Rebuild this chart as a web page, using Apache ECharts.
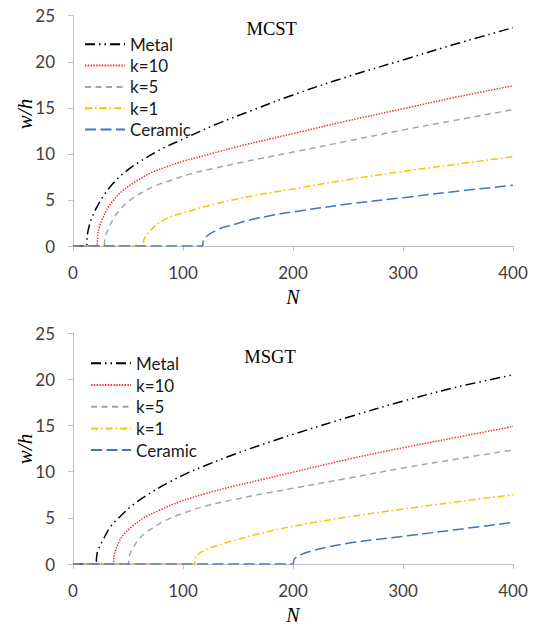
<!DOCTYPE html>
<html>
<head>
<meta charset="utf-8">
<style>
  html, body { margin: 0; padding: 0; background: #ffffff; }
  #chart { width: 534px; height: 626px; }
</style>
<script src="https://cdn.jsdelivr.net/npm/echarts@6/dist/echarts.min.js"></script>
</head>
<body>
<div id="chart"></div>
<script>
// Series names and panel titles
const seriesNames = ['Metal', 'k=10', 'k=5', 'k=1', 'Ceramic'];
const panelTitles = ['MCST', 'MSGT'];

// Axis ranges (N on x, w/h on y)
const xRange = [0, 400, 100];
const yRange = [0, 25, 5];

// MCST panel: [N, w/h]
const mcstMetal = [[0,0],[12,0],[13,1.2],[15,2.3],[18,3.3],[22,4.3],[28,5.5],[35,6.6],[45,7.8],[60,9.1],[80,10.5],[100,11.6],[130,13.2],[160,14.6],[200,16.4],[250,18.4],[300,20.2],[350,22.0],[400,23.7]];
const mcstK10 = [[0,0],[21.5,0],[22.5,1.2],[24,2.1],[27,3.0],[31,4.0],[37,5.0],[45,6.0],[57,7.0],[72,8.0],[90,8.8],[100,9.2],[125,10.0],[150,10.8],[200,12.2],[250,13.6],[300,14.9],[350,16.2],[400,17.4]];
const mcstK5 = [[0,0],[28,0],[29,0.9],[30.5,1.4],[35,2.6],[41,3.7],[50,4.8],[61,5.7],[76,6.6],[91,7.2],[106,7.8],[127,8.4],[150,9.0],[200,10.2],[250,11.4],[300,12.6],[350,13.7],[400,14.8]];
const mcstK1 = [[0,0],[63.5,0],[64.5,0.7],[67,1.2],[73,2.0],[82,2.8],[94,3.4],[106,3.8],[121,4.3],[145,5.0],[175,5.7],[200,6.2],[250,7.2],[300,8.1],[350,8.9],[400,9.7]];
const mcstCeramic = [[0,0],[117.5,0],[118.5,0.6],[121,1.0],[127,1.5],[136,2.0],[145,2.3],[160,2.8],[180,3.3],[200,3.7],[250,4.55],[300,5.25],[350,5.95],[400,6.6]];

// MSGT panel: [N, w/h]
const msgtMetal = [[0,0],[20.6,0],[21.5,0.8],[22.7,1.5],[27.3,2.6],[33.3,3.9],[42.4,5.1],[54.5,6.4],[69.7,7.65],[88,8.9],[103,9.8],[121,10.7],[139,11.55],[161,12.5],[182,13.35],[200,14.05],[250,15.9],[300,17.65],[350,19.2],[400,20.5]];
const msgtK10 = [[0,0],[36.4,0],[37.2,0.8],[38,1.2],[41,2.2],[45.5,3.1],[53,4.0],[63.6,4.95],[79,5.85],[97,6.75],[121,7.65],[145,8.4],[170,9.1],[200,9.95],[250,11.35],[300,12.6],[350,13.75],[400,14.9]];
const msgtK5 = [[0,0],[50,0],[50.8,0.6],[51.5,1.0],[54.5,1.7],[60.6,2.8],[69.7,3.7],[82,4.6],[100,5.5],[121,6.3],[145,6.95],[170,7.55],[200,8.2],[250,9.3],[300,10.4],[350,11.4],[400,12.35]];
const msgtK1 = [[0,0],[110,0],[111,0.5],[112,0.8],[118,1.4],[130,1.95],[145,2.5],[170,3.3],[200,4.1],[250,5.1],[300,5.95],[350,6.75],[400,7.5]];
const msgtCeramic = [[0,0],[200,0],[201,0.5],[205,0.9],[215,1.35],[230,1.8],[250,2.25],[275,2.65],[300,3.0],[350,3.75],[400,4.5]];

const panelData = [
  [mcstMetal, mcstK10, mcstK5, mcstK1, mcstCeramic],
  [msgtMetal, msgtK10, msgtK5, msgtK1, msgtCeramic]
];

// Line looks, one per series
const lineLooks = [
  { color: '#000000', type: [10, 4, 1.5, 4, 1.5, 4] },
  { color: '#ff2a2a', type: [1.4, 1.4] },
  { color: '#a5a5a5', type: [6, 4.5] },
  { color: '#ffc000', type: [7, 3, 1.6, 3] },
  { color: '#4472c4', type: [11, 4.5] }
];

const gridBoxes = [
  { left: 73, width: 440, top: 15.7, height: 230.3 },
  { left: 73, width: 440, top: 333.3, height: 230.7 }
];
const legendBoxes = [
  { left: 84, top: 35.8, itemGap: 4.3 },
  { left: 90, top: 354.8, itemGap: 4.7 }
];

const labelFont = 'Lato, "Open Sans", sans-serif';
const serifFont = '"Liberation Serif", "DejaVu Serif", serif';
const axisGray = '#c0c0c0';

const chart = echarts.init(document.getElementById('chart'), null, { renderer: 'svg' });

const grids = [], xAxes = [], yAxes = [], series = [], legends = [];
gridBoxes.forEach((g, p) => {
  grids.push(Object.assign({ containLabel: false }, g));
  xAxes.push({
    type: 'value', gridIndex: p,
    min: xRange[0], max: xRange[1], interval: xRange[2],
    name: 'N', nameLocation: 'middle', nameGap: 41,
    nameTextStyle: { fontFamily: serifFont, fontStyle: 'italic', fontSize: 20, color: '#000' },
    axisLine: { show: true, onZero: false, lineStyle: { color: axisGray, width: 1 } },
    axisTick: { show: true, inside: false, length: 5, lineStyle: { color: axisGray } },
    axisLabel: { margin: 18, fontFamily: labelFont, fontSize: 17, color: '#404040' },
    splitLine: { show: false }
  });
  yAxes.push({
    type: 'value', gridIndex: p,
    min: yRange[0], max: yRange[1], interval: yRange[2],
    axisLine: { show: true, lineStyle: { color: axisGray, width: 1 } },
    axisTick: { show: true, inside: false, length: 5, lineStyle: { color: axisGray } },
    axisLabel: { margin: 18, fontFamily: labelFont, fontSize: 17, color: '#404040' },
    splitLine: { show: false }
  });
  panelData[p].forEach((data, i) => {
    series.push({
      name: seriesNames[i],
      type: 'line',
      xAxisIndex: p, yAxisIndex: p,
      data: data,
      showSymbol: false, symbol: 'none',
      smooth: 0.35,
      clip: true,
      lineStyle: { color: lineLooks[i].color, width: 1.5, type: lineLooks[i].type },
      itemStyle: { color: lineLooks[i].color },
      emphasis: { disabled: true },
      animation: false
    });
  });
  legends.push({
    orient: 'vertical',
    left: legendBoxes[p].left, top: legendBoxes[p].top,
    itemGap: legendBoxes[p].itemGap,
    itemWidth: 40, itemHeight: 17,
    padding: 0,
    selectedMode: false,
    itemStyle: { opacity: 0, borderWidth: 0 },
    data: seriesNames.map(n => ({ name: n })),
    textStyle: { fontFamily: labelFont, fontSize: 17, lineHeight: 17, color: '#1a1a1a' }
  });
});

const option = {
  backgroundColor: '#ffffff',
  animation: false,
  grid: grids,
  xAxis: xAxes,
  yAxis: yAxes,
  legend: legends,
  series: series,
  graphic: [
    { type: 'text', x: 271.7, y: 29, style: { text: panelTitles[0], font: '18.5px ' + serifFont, fill: '#000', align: 'center', verticalAlign: 'middle' } },
    { type: 'text', x: 270, y: 356.7, style: { text: panelTitles[1], font: '18.5px ' + serifFont, fill: '#000', align: 'center', verticalAlign: 'middle' } },
    { type: 'text', x: 25, y: 114, rotation: Math.PI / 2, style: { text: 'w/h', font: 'italic 21px ' + serifFont, fill: '#000', align: 'center', verticalAlign: 'middle' } },
    { type: 'text', x: 25, y: 449, rotation: Math.PI / 2, style: { text: 'w/h', font: 'italic 21px ' + serifFont, fill: '#000', align: 'center', verticalAlign: 'middle' } }
  ]
};
chart.setOption(option);
</script>
</body>
</html>
